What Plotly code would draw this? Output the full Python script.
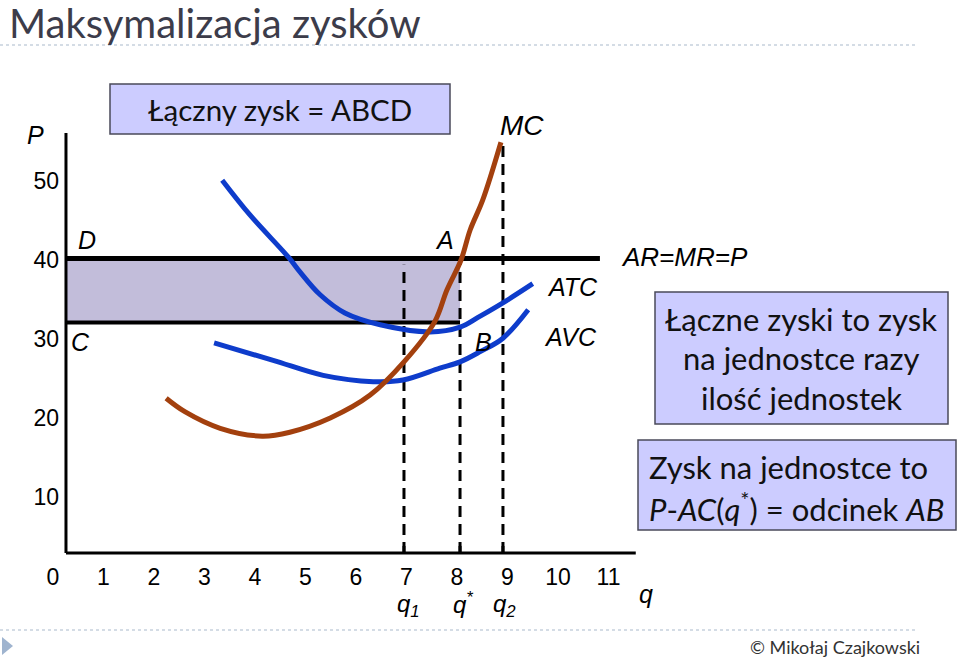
import plotly.graph_objects as go

W, H = 960, 660

# ---------------- data ----------------
x_ticks = [0, 1, 2, 3, 4, 5, 6, 7, 8, 9, 10, 11]
y_ticks = [10, 20, 30, 40, 50]

mc_q = [2.24, 2.61, 3.31, 4.14, 4.69, 5.49, 6.28, 6.95, 7.56, 7.80, 8.08, 8.26, 8.51, 8.87]
mc_p = [22.5, 20.8, 18.7, 17.7, 18.2, 20.0, 22.9, 27.1, 32.2, 36.2, 40.0, 43.8, 47.6, 54.9]

atc_q = [3.35, 3.90, 4.67, 4.89, 5.29, 5.78, 6.48, 7.47, 8.06, 8.46, 8.99, 9.50]
atc_p = [50.1, 45.7, 40.3, 38.5, 35.6, 33.3, 31.8, 30.9, 31.5, 32.9, 34.9, 37.0]

avc_q = [3.19, 4.36, 5.35, 6.34, 6.93, 7.66, 8.06, 8.46, 8.91, 9.41]
avc_p = [29.5, 27.3, 25.4, 24.6, 24.8, 26.3, 27.1, 28.4, 30.1, 33.7]

price = 40.2          # AR = MR = P
ac_qstar = 32.1       # AC(q*) (point B / C level)
q1, q_star, q2 = 6.95, 8.06, 8.91
q1_top, q2_top = 39.4, 54.9
price_line_end = 10.83

# axis extents (data units) of the drawn axes
AX_Q0, AX_Q1 = 0.257, 11.54
AX_P0, AX_P1 = 2.91, 56.08

# ---------------- layout geometry ----------------
# full-canvas data window: pixel = 53 + 50.5*q ; pixel_y = 576 - 7.9*P
XR = [(0 - 53) / 50.5, (960 - 53) / 50.5]
YR = [(576 - 660) / 7.9, 576 / 7.9]


def fx(px):
    return px / W


def fy(py):
    return 1 - py / H


ARIAL = "Liberation Sans"
CAL = "Lato"
BLUE = "#0E3CCB"
BROWN = "#A3400E"

fig = go.Figure()


def seg(x, y, color="black", width=3, dash=None, shape="linear", fill=None, fillcolor=None):
    fig.add_trace(go.Scatter(x=x, y=y, mode="lines", fill=fill, fillcolor=fillcolor,
                             line=dict(color=color, width=width, dash=dash, shape=shape),
                             hoverinfo="skip", showlegend=False))


# profit rectangle ABCD
seg([AX_Q0, q_star, q_star, AX_Q0, AX_Q0], [ac_qstar, ac_qstar, price, price, ac_qstar],
    width=0, fill="toself", fillcolor="#C2BDDA")

# dashed verticals with ticks
for qq, top in [(q1, q1_top), (q_star, price), (q2, q2_top)]:
    seg([qq, qq], [AX_P0, top], width=3, dash="11px,7px")
    seg([qq, qq], [AX_P0, AX_P0 + 0.9], width=3)

# axes
seg([AX_Q0, AX_Q0], [AX_P0, AX_P1], width=3)
seg([AX_Q0, AX_Q1], [AX_P0, AX_P0], width=3)

# price line and C line
seg([AX_Q0, price_line_end], [price, price], width=5)
seg([AX_Q0, q_star], [ac_qstar, ac_qstar], width=4)

# cost curves
seg(avc_q, avc_p, color=BLUE, width=5, shape="spline")
seg(atc_q, atc_p, color=BLUE, width=5, shape="spline")
seg(mc_q, mc_p, color=BROWN, width=5, shape="spline")

ann = []


def lab(px, py, text, size=22, family=ARIAL, anchor="center", color="black"):
    ann.append(dict(x=fx(px), y=fy(py), xref="paper", yref="paper", text=text, showarrow=False,
                    font=dict(family=family, size=size, color=color), xanchor=anchor, yanchor="middle"))


lab(35, 135, "<i>P</i>", 25)
lab(87, 240, "<i>D</i>", 25)
lab(80, 342, "<i>C</i>", 25)
lab(444, 240, "<i>A</i>", 25)
lab(483, 342, "<i>B</i>", 25)
lab(522, 125, "<i>MC</i>", 28)
lab(572, 287, "<i>ATC</i>", 25)
lab(570, 337, "<i>AVC</i>", 25)
lab(684, 257, "<i>AR=MR=P</i>", 26)
lab(408, 605, "<i>q<sub>1</sub></i>", 24)
lab(463, 603, "<i>q<sup>*</sup></i>", 24)
lab(505, 605, "<i>q<sub>2</sub></i>", 24)
lab(646, 594, "<i>q</i>", 25)

# title and footer
lab(7, 23, "Maksymalizacja zysków", 40, CAL, "left", "#3C3C4A")
lab(922, 647, "© Mikołaj Czajkowski", 18, CAL, "right", "#333333")

shapes = []
for (x0, y0, x1, y1) in [(110, 84, 450, 134), (655, 292, 948, 424), (638, 440, 956, 530)]:
    shapes.append(dict(type="rect", xref="paper", yref="paper", x0=fx(x0), x1=fx(x1), y0=fy(y1), y1=fy(y0),
                       fillcolor="#CCCCFF", line=dict(color="#4A4A5A", width=1.5), layer="above"))

lab(280, 110, "Łączny zysk = ABCD", 29.5, CAL, "center", "#111111")
lab(801, 319, "Łączne zyski to zysk", 31, CAL, "center", "#111111")
lab(801, 358, "na jednostce razy", 31, CAL, "center", "#111111")
lab(801, 398, "ilość jednostek", 31, CAL, "center", "#111111")
lab(647, 467, "Zysk na jednostce to", 31, CAL, "left", "#111111")
lab(647, 507, "<i>P</i>-<i>AC</i>(<i>q</i><sup>*</sup>) = odcinek <i>AB</i>", 31, CAL, "left", "#111111")

for yy in [45, 630]:
    shapes.append(dict(type="line", xref="paper", yref="paper", x0=0, x1=fx(918), y0=fy(yy), y1=fy(yy),
                       line=dict(color="#A9B9CB", width=1, dash="3px,3px")))
shapes.append(dict(type="path", xref="paper", yref="paper",
                   path=f"M {fx(2)} {fy(637)} L {fx(13)} {fy(646)} L {fx(2)} {fy(655)} Z",
                   fillcolor="#9FB4CF", line=dict(width=0)))

fig.update_layout(
    width=W, height=H, margin=dict(l=0, r=0, t=0, b=0),
    paper_bgcolor="white", plot_bgcolor="rgba(0,0,0,0)",
    xaxis=dict(domain=[0, 1], range=XR, anchor="free", position=fy(561),
               tickmode="array", tickvals=x_ticks, ticktext=[str(t) for t in x_ticks],
               tickfont=dict(family=ARIAL, size=23, color="black"),
               showline=False, showgrid=False, zeroline=False, ticks=""),
    yaxis=dict(domain=[0, 1], range=YR, anchor="free", position=fx(59),
               tickmode="array", tickvals=y_ticks, ticktext=[str(t) for t in y_ticks],
               tickfont=dict(family=ARIAL, size=23, color="black"),
               showline=False, showgrid=False, zeroline=False, ticks=""),
    annotations=ann, shapes=shapes, showlegend=False,
)

fig.write_html("out.html", config={"displayModeBar": False},
               post_script="document.body.style.margin='0';")
